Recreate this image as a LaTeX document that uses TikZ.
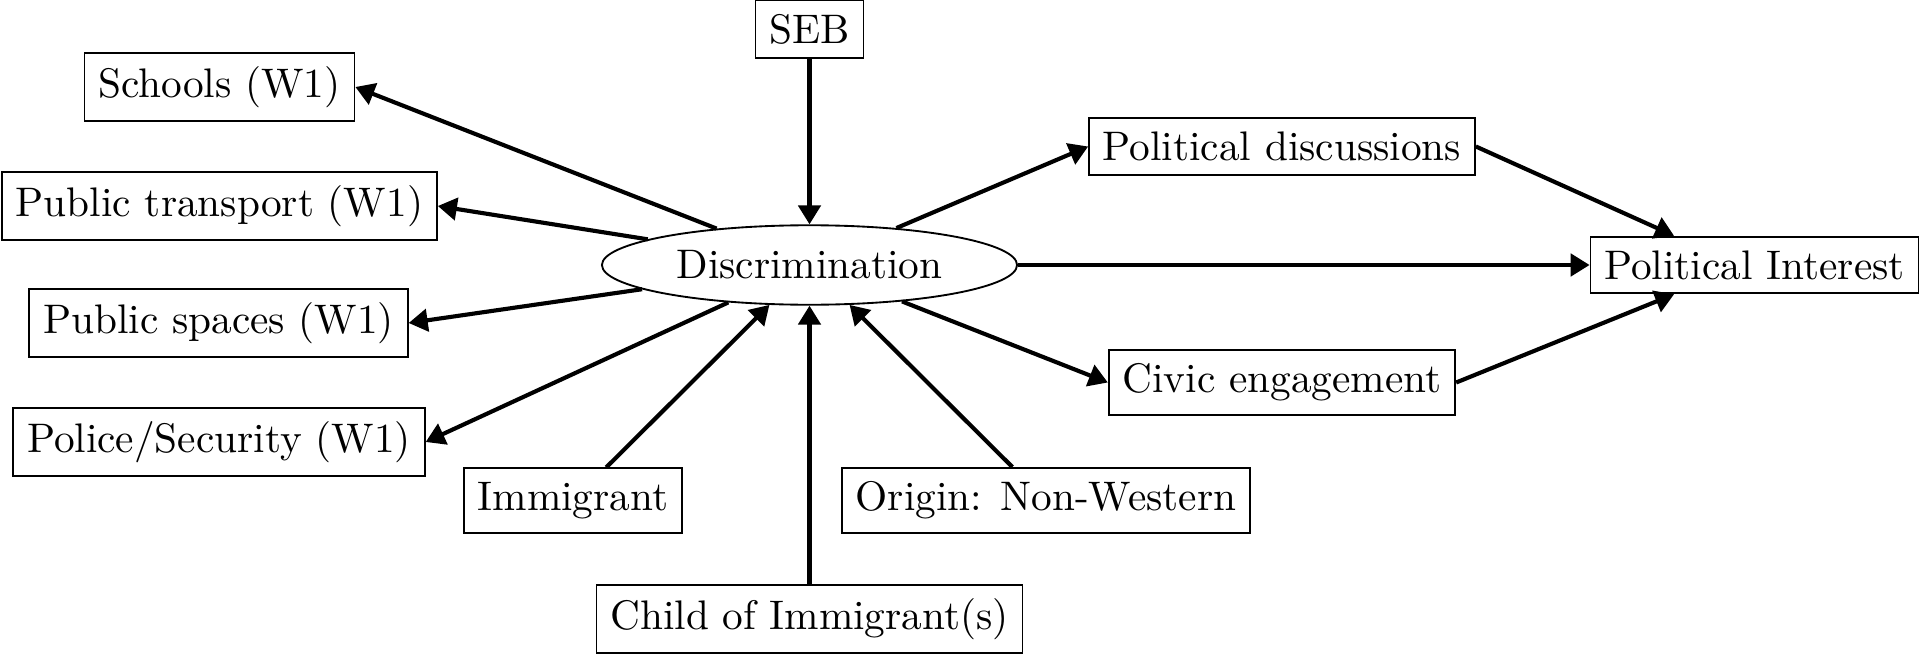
\documentclass[tikz,border=0pt]{standalone}
\usetikzlibrary{arrows.meta,shapes.geometric}
\begin{document}
\begin{tikzpicture}[x=0.2421pt,y=-0.2421pt,
  box/.style={draw,line width=0.45pt,rectangle},
  oval/.style={draw,line width=0.45pt,ellipse},
  conn/.style={line width=1pt,-{Triangle[length=4.6pt,width=5.4pt]}}]
\useasboundingbox (0,0) rectangle (1920,655);
\node[box] (seb) at (809.5,29) {SEB};
\node[box] (schools) at (219.5,87) {Schools (W1)};
\node[box] (pt) at (219.5,206) {Public transport (W1)};
\node[box] (ps) at (218.5,323) {Public spaces (W1)};
\node[box] (police) at (219,442) {Police/Security (W1)};
\node[box] (imm) at (573,500.5) {Immigrant};
\node[box] (child) at (809.5,619) {Child of Immigrant(s)};
\node[box] (origin) at (1046,500.5) {Origin: Non-Western};
\node[oval] (disc) at (809.5,265) {Discrimination};
\node[box] (pd) at (1282,146.5) {Political discussions};
\node[box] (ce) at (1282,382.5) {Civic engagement};
\node[box] (pi) at (1754.5,265) {Political Interest};
\draw[conn] (seb) -- (disc);
\draw[conn] (disc) -- (schools.east);
\draw[conn] (disc) -- (pt.east);
\draw[conn] (disc) -- (ps.east);
\draw[conn] (disc) -- (police.east);
\draw[conn] (imm) -- (disc);
\draw[conn] (child) -- (disc);
\draw[conn] (origin) -- (disc);
\draw[conn] (disc) -- (pd.west);
\draw[conn] (disc) -- (ce.west);
\draw[conn] (disc) -- (pi);
\draw[conn] (pd.east) -- (pi.160);
\draw[conn] (ce.east) -- (pi.200);
\end{tikzpicture}
\end{document}
